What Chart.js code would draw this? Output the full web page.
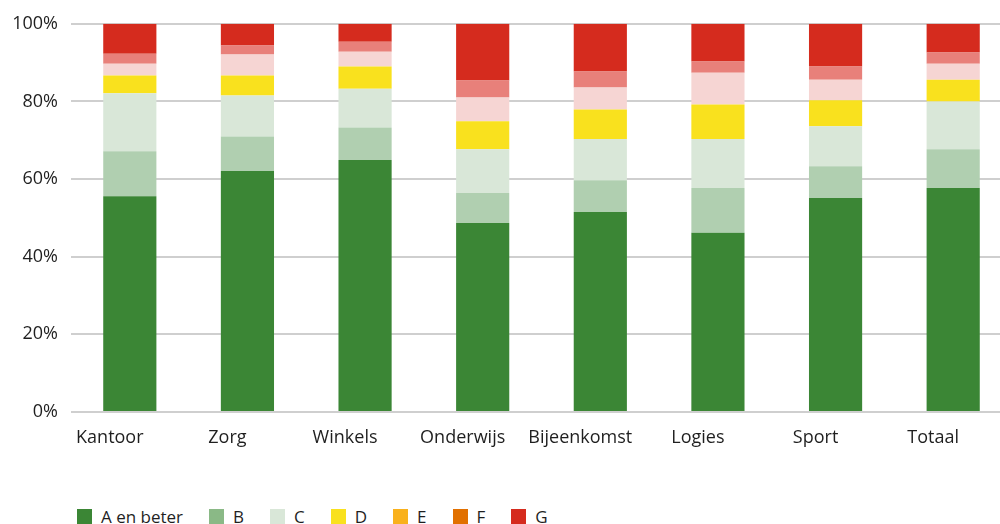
<!DOCTYPE html>
<html lang="nl">
<head>
<meta charset="utf-8">
<title>Energielabels per gebruiksfunctie</title>
<script src="https://cdn.jsdelivr.net/npm/chart.js@4.4.1/dist/chart.umd.min.js"></script>
<style>
  html, body { margin: 0; padding: 0; background: #fff; }
  body { width: 1000px; height: 524px; overflow: hidden; position: relative; font-family: 'Open Sans', sans-serif; }
  #wrap { position: absolute; left: 0; top: 0; width: 1012px; height: 480px; }
  #legend { position: absolute; left: 77px; top: 509px; display: flex; align-items: center; font-size: 17px; color: #1f1f1f; line-height: 15px; }
  #legend .item { display: flex; align-items: center; margin-right: 26px; }
  #legend .box { width: 15px; height: 15px; margin-right: 9px; }
</style>
</head>
<body>
<div id="wrap"><canvas id="chart" width="1012" height="480"></canvas></div>
<div id="legend"></div>
<script>
// categories and label classes
const categories = ['Kantoor', 'Zorg', 'Winkels', 'Onderwijs', 'Bijeenkomst', 'Logies', 'Sport', 'Totaal'];
const labelNames = ['A en beter', 'B', 'C', 'D', 'E', 'F', 'G'];

// share per label (%)
const aEnBeter = [55.6, 62.1, 64.9, 48.7, 51.5, 46.2, 55.1, 57.7];
const labelB = [11.6, 8.9, 8.4, 7.7, 8.2, 11.5, 8.2, 10.0];
const labelC = [14.9, 10.5, 10.0, 11.3, 10.6, 12.6, 10.3, 12.3];
const labelD = [4.6, 5.2, 5.7, 7.2, 7.6, 8.9, 6.7, 5.6];
const labelE = [3.0, 5.4, 3.8, 6.1, 5.7, 8.2, 5.3, 4.1];
const labelF = [2.6, 2.3, 2.6, 4.4, 4.1, 2.9, 3.4, 2.9];
const labelG = [7.7, 5.6, 4.6, 14.6, 12.3, 9.7, 11.0, 7.4];

const yTicks = [0, 20, 40, 60, 80, 100];

// bar colours and (different) legend colours, as in the original
const barColors = ['#3b8635', '#b0cfb0', '#d9e7d8', '#f9e11e', '#f6d5d3', '#e8807a', '#d52b1e'];
const legendColors = ['#3b8635', '#8ab986', '#d9e7d8', '#f9e11e', '#f9b11c', '#e17000', '#d52b1e'];

const series = [aEnBeter, labelB, labelC, labelD, labelE, labelF, labelG];

const ctx = document.getElementById('chart').getContext('2d');
const chart = new Chart(ctx, {
  type: 'bar',
  data: {
    labels: categories,
    datasets: series.map((values, i) => ({
      label: labelNames[i],
      data: values,
      backgroundColor: barColors[i],
      borderWidth: 0,
      categoryPercentage: 1,
      barPercentage: 0.452,
    })),
  },
  options: {
    responsive: false,
    animation: false,
    layout: { padding: { top: 22, left: 0, right: 0, bottom: 0 } },
    plugins: {
      legend: { display: false },
      tooltip: { enabled: false },
    },
    scales: {
      x: {
        stacked: true,
        grid: { display: false, drawTicks: false },
        border: { display: false },
        ticks: {
          color: '#1f1f1f',
          font: { family: 'Open Sans', size: 18 },
          padding: 15,
          labelOffset: -20,
          maxRotation: 0,
        },
        afterFit: (scale) => { scale.height = 68; },
      },
      y: {
        stacked: true,
        min: 0,
        max: 100,
        afterBuildTicks: (scale) => { scale.ticks = yTicks.map(v => ({ value: v })); },
        grid: { color: '#cfcfcf', lineWidth: 2, drawTicks: false },
        border: { display: false },
        ticks: {
          color: '#1f1f1f',
          font: { family: 'Open Sans', size: 18 },
          padding: 13,
          callback: (v) => v + '%',
        },
        afterFit: (scale) => { scale.width = 71; },
      },
    },
  },
});

// legend built from the same names
const legendEl = document.getElementById('legend');
labelNames.forEach((name, i) => {
  const item = document.createElement('div');
  item.className = 'item';
  const box = document.createElement('span');
  box.className = 'box';
  box.style.background = legendColors[i];
  const txt = document.createElement('span');
  txt.textContent = name;
  item.appendChild(box);
  item.appendChild(txt);
  legendEl.appendChild(item);
});
</script>
</body>
</html>
